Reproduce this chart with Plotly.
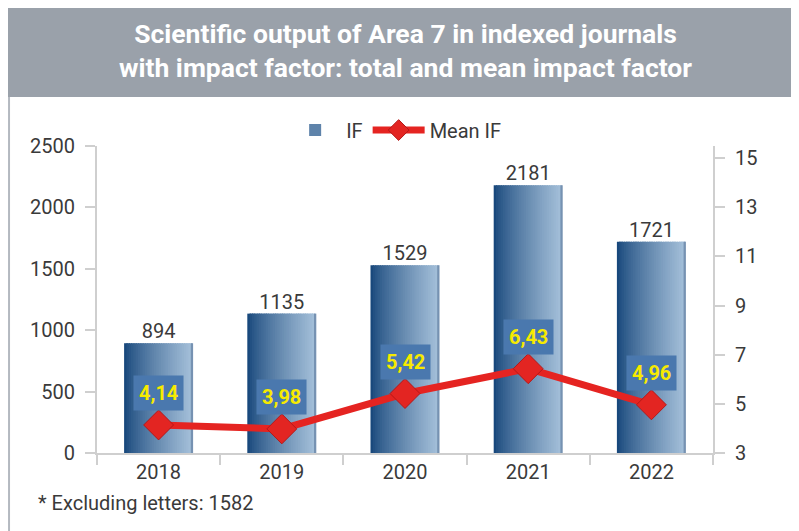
import plotly.graph_objects as go

# Data
years = ["2018", "2019", "2020", "2021", "2022"]
if_total = [894, 1135, 1529, 2181, 1721]
mean_if = [4.14, 3.98, 5.42, 6.43, 4.96]
left_ticks = [0, 500, 1000, 1500, 2000, 2500]
right_ticks = [3, 5, 7, 9, 11, 13, 15]

title_text = "Scientific output of Area 7 in indexed journals<br>with impact factor: total and mean impact factor"
footnote = "* Excluding letters: 1582"

FONT = "Roboto, Arial, sans-serif"
TXT = "#3a3a3a"
AXIS = "#cfcfcf"


def blend(c1, c2, t):
    return "rgb({},{},{})".format(*[round(a + (b - a) * t) for a, b in zip(c1, c2)])


fig = go.Figure()

# Horizontal gradient on the bars: each bar is drawn as thin vertical slices
n_slices = 30
bar_w = 0.56
dark = (24, 72, 124)
light = (165, 192, 218)
slice_w = bar_w / n_slices
for i in range(n_slices):
    t = i / (n_slices - 1)
    col = blend(dark, light, t ** 0.8)
    if i == n_slices - 1:
        col = "rgb(118,146,178)"
    fig.add_trace(go.Bar(
        x=years, y=if_total,
        width=slice_w * 1.6 if i < n_slices - 1 else slice_w,
        offset=-bar_w / 2 + i * slice_w,
        marker=dict(color=col, line=dict(width=0)),
        name="IF",
        legendgroup="IF",
        showlegend=(i == 12),
        hoverinfo="skip",
        yaxis="y",
    ))

# Totals above bars
fig.add_trace(go.Scatter(
    x=years, y=if_total,
    mode="text",
    text=[str(v) for v in if_total],
    textposition="top center",
    textfont=dict(size=20, color=TXT, family=FONT),
    showlegend=False,
    hoverinfo="skip",
    yaxis="y",
))

# Mean IF line
fig.add_trace(go.Scatter(
    x=years, y=mean_if,
    mode="lines+markers",
    name="Mean IF",
    line=dict(color="#e52421", width=7),
    marker=dict(symbol="diamond", size=23, color="#e32522",
                line=dict(color="#b51818", width=1)),
    yaxis="y2",
))

# Yellow labels on blue boxes for mean IF (x is the category index)
for i, v in enumerate(mean_if):
    fig.add_annotation(
        x=i, y=v, xref="x", yref="y2",
        text="<b>" + f"{v:.2f}".replace(".", ",") + "</b>",
        showarrow=False, yshift=32,
        font=dict(size=20, color="#f7ea00", family=FONT),
        bgcolor="#4a78ae", borderpad=5,
    )

# Header band (page has an 8px body margin, so the figure is 8px smaller)
fig.add_shape(type="rect", xref="paper", yref="paper",
              x0=-0.16, x1=1.16, y0=1.1596, y1=1.4593,
              fillcolor="#9aa1aa", line=dict(width=0), layer="below")
# Left border
fig.add_shape(type="line", xref="paper", yref="paper",
              x0=-0.1428, x1=-0.1428, y0=1.1596, y1=-0.30,
              line=dict(color="#b4b9c0", width=2))

fig.add_annotation(
    xref="paper", yref="paper", x=0.501, y=1.31,
    text="<b>" + title_text + "</b>", showarrow=False,
    font=dict(size=26.5, color="white", family=FONT),
    xanchor="center", yanchor="middle",
)
fig.add_annotation(
    xref="paper", yref="paper", x=-0.099, y=-0.163,
    text=footnote, showarrow=False,
    font=dict(size=20, color=TXT, family=FONT),
    xanchor="left", yanchor="middle",
)

fig.update_layout(
    width=791, height=523,
    margin=dict(l=89, r=86, t=138, b=78),
    paper_bgcolor="white", plot_bgcolor="white",
    barmode="overlay",
    font=dict(family=FONT, size=20, color=TXT),
    showlegend=True,
    legend=dict(orientation="h", x=0.484, y=1.052, xanchor="center", yanchor="middle",
                font=dict(size=20, color=TXT, family=FONT), itemwidth=52,
                bgcolor="rgba(0,0,0,0)"),
    xaxis=dict(
        type="category", showgrid=False, showline=True, linecolor=AXIS, linewidth=2,
        ticks="outside", tickson="boundaries", ticklen=10, tickwidth=2, tickcolor=AXIS,
        tickfont=dict(size=20, color=TXT), range=[-0.5, 4.5],
    ),
    yaxis=dict(
        range=[0, 2500], tickvals=left_ticks, showgrid=False, zeroline=False,
        showline=True, linecolor=AXIS, linewidth=2,
        ticks="outside", ticklen=10, tickwidth=2, tickcolor=AXIS,
        tickfont=dict(size=20, color=TXT), ticklabelstandoff=6,
    ),
    yaxis2=dict(
        overlaying="y", side="right", range=[3, 15.49], tickvals=right_ticks,
        showgrid=False, zeroline=False, showline=True, linecolor=AXIS, linewidth=2,
        ticks="outside", ticklen=10, tickwidth=2, tickcolor=AXIS,
        tickfont=dict(size=20, color=TXT), ticklabelstandoff=6,
    ),
)

fig.write_html("out.html")
